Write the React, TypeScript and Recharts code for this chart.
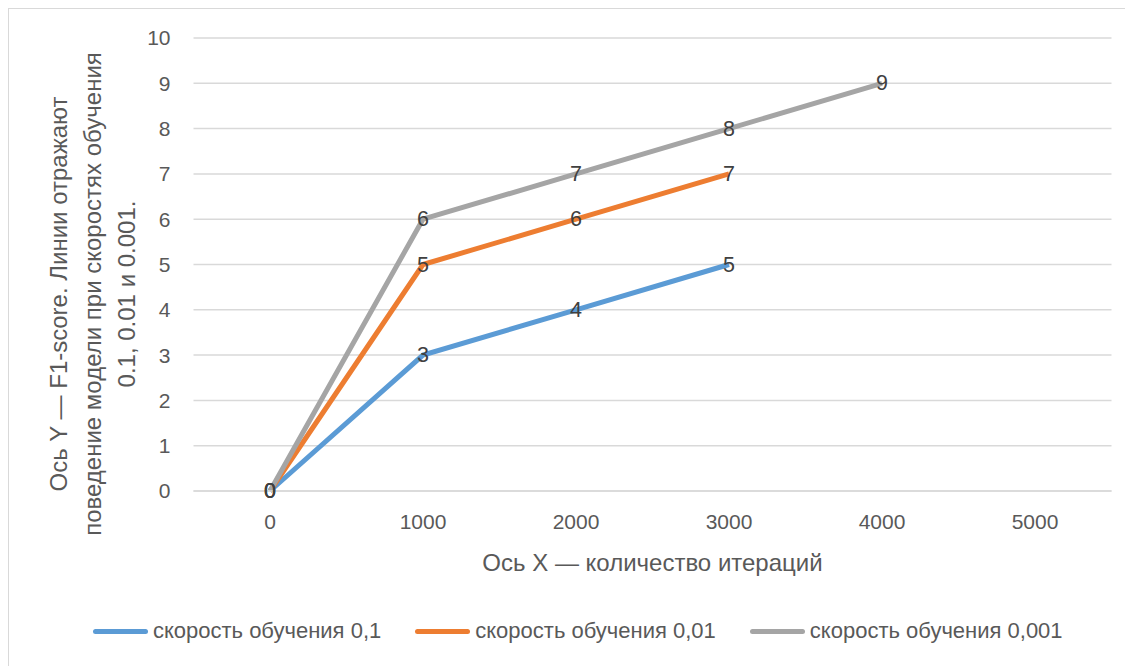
import { CartesianGrid, LabelList, Legend, Line, LineChart, XAxis, YAxis } from 'recharts';

const iterations = ['0', '1000', '2000', '3000', '4000', '5000'];
const lr01 = [0, 3, 4, 5, null, null];
const lr001 = [0, 5, 6, 7, null, null];
const lr0001 = [0, 6, 7, 8, 9, null];
const yTicks = [0, 1, 2, 3, 4, 5, 6, 7, 8, 9, 10];

const seriesNames = ['скорость обучения 0,1', 'скорость обучения 0,01', 'скорость обучения 0,001'];
const seriesColors = ['#5B9BD5', '#ED7D31', '#A5A5A5'];
const xTitle = 'Ось X — количество итераций';
const yTitleLines = [
  'Ось Y — F1-score. Линии отражают',
  'поведение модели при скоростях обучения',
  '0.1, 0.01 и 0.001.',
];

const data = iterations.map((x, i) => ({ x, a: lr01[i], b: lr001[i], c: lr0001[i] }));

const FONT = '"Liberation Sans", Arial, sans-serif';
const TEXT = '#595959';

const PointLabel = (props: any) => {
  const { x, y, value } = props;
  if (value == null) return null;
  return (
    <text x={x} y={y} textAnchor="middle" dominantBaseline="central" fill="#404040" fontSize={21.5} fontFamily={FONT}>
      {value}
    </text>
  );
};

// three wrapped lines of the rotated title, centred a bit below the plot middle
const YTitle = () => (
  <g>
    {yTitleLines.map((t, i) => (
      <text
        key={i}
        transform={`translate(${50 + 34 * i}, 286) rotate(-90)`}
        textAnchor="middle"
        dominantBaseline="central"
        fill={TEXT}
        fontSize={24}
        fontFamily={FONT}
      >
        {t}
      </text>
    ))}
  </g>
);

const XTitle = (props: any) => {
  const vb = props.viewBox;
  return (
    <text x={vb.x + vb.width / 2} y={554} textAnchor="middle" dominantBaseline="central" fill={TEXT} fontSize={24} fontFamily={FONT}>
      {xTitle}
    </text>
  );
};

const LegendContent = () => (
  <div style={{ display: 'flex', justifyContent: 'center', alignItems: 'center', gap: 34, height: 40, fontFamily: FONT, paddingLeft: 36 }}>
    {seriesNames.map((n, i) => (
      <div key={n} style={{ display: 'flex', alignItems: 'center' }}>
        <span style={{ display: 'inline-block', width: 55, height: 5, borderRadius: 3, background: seriesColors[i], marginRight: 5 }} />
        <span style={{ color: TEXT, fontSize: 22 }}>{n}</span>
      </div>
    ))}
  </div>
);

export default function App() {
  return (
    <div style={{ position: 'relative', width: 1125, height: 658, overflow: 'hidden', fontFamily: FONT }}>
      <LineChart width={1125} height={658} data={data} margin={{ top: 30, right: 21.5, left: 0, bottom: 15 }}>
        <CartesianGrid vertical={false} stroke="#d9d9d9" strokeWidth={1.5} />
        <XAxis
          dataKey="x"
          height={120}
          padding={{ left: 76.5, right: 76.5 }}
          axisLine={{ stroke: '#d9d9d9', strokeWidth: 1.5 }}
          tickLine={false}
          tickSize={0}
          tickMargin={23}
          tick={{ fill: TEXT, fontSize: 21, fontFamily: FONT }}
          label={<XTitle />}
        />
        <YAxis
          width={185.5}
          domain={[0, 10]}
          ticks={yTicks}
          interval={0}
          axisLine={false}
          tickLine={false}
          tickSize={0}
          tickMargin={23}
          tick={{ fill: TEXT, fontSize: 21, fontFamily: FONT }}
          label={<YTitle />}
        />
        <Legend verticalAlign="bottom" wrapperStyle={{ height: 40 }} content={<LegendContent />} />
        <Line dataKey="a" name={seriesNames[0]} stroke={seriesColors[0]} strokeWidth={5} dot={false} isAnimationActive={false}>
          <LabelList dataKey="a" content={<PointLabel />} />
        </Line>
        <Line dataKey="b" name={seriesNames[1]} stroke={seriesColors[1]} strokeWidth={5} dot={false} isAnimationActive={false}>
          <LabelList dataKey="b" content={<PointLabel />} />
        </Line>
        <Line dataKey="c" name={seriesNames[2]} stroke={seriesColors[2]} strokeWidth={5} dot={false} isAnimationActive={false}>
          <LabelList dataKey="c" content={<PointLabel />} />
        </Line>
      </LineChart>
      <div
        style={{
          position: 'absolute',
          left: -1,
          top: -1,
          right: -20,
          bottom: -20,
          border: '2px solid #d9d9d9',
          pointerEvents: 'none',
        }}
      />
    </div>
  );
}
